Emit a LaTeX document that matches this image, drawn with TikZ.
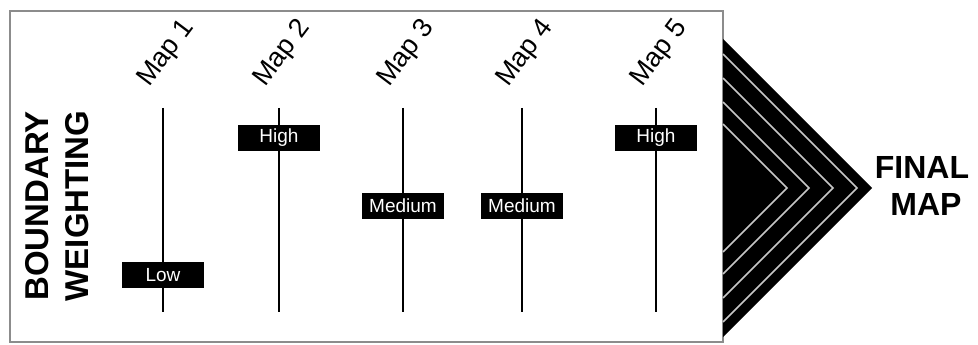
\documentclass[tikz,border=0pt]{standalone}
\usepackage{fontspec}
\setmainfont{Liberation Sans}
\begin{document}
\begin{tikzpicture}[x=1pt,y=-1pt,
  level/.style={fill=black, text=white, minimum width=82pt, minimum height=26pt,
    inner sep=0pt, font=\fontsize{19}{22}\selectfont},
  maplabel/.style={rotate=53, anchor=base west, font=\fontsize{27}{30}\selectfont},
  track/.style={line width=2.5pt},
  bigtext/.style={font=\bfseries\fontsize{33}{37}\selectfont},
  frame/.style={draw=black!45, line width=1.3pt},
  layer/.style={draw=black!22, line width=1.5pt, line join=miter}
]
\useasboundingbox (0,0) rectangle (978,345);

% panel holding the five maps
\draw[frame] (10,11) rectangle (723,342);

% vertical tracks, map labels and weighting markers
\foreach \i/\x/\y/\t in {1/163/275/Low, 2/279/138/High, 3/403/206/Medium,
                         4/522/206/Medium, 5/656/138/High}{
  \coordinate (t\i) at (\x,108);
  \coordinate (b\i) at (\x,312);
  \draw[track] (t\i) -- (b\i);
  \node[maplabel] (m\i) at (\x-16,90) {Map~\i};
  \node[level] (w\i) at (\x,\y) {\t};
}

% side title
\node[bigtext, rotate=90, anchor=base] (bnd) at (48,206) {BOUNDARY};
\node[bigtext, rotate=90, anchor=base] (wgt) at (88,206) {WEIGHTING};

% stacked chevrons merging the maps
\fill[black] (723,39) -- (872,188) -- (723,337) -- cycle;
\foreach \a in {857,833,809,787}{
  \draw[layer] (723,{188-(\a-723)}) -- (\a,188) -- (723,{188+(\a-723)});
}

% result
\node[font=\bfseries\fontsize{32}{37}\selectfont, anchor=base] (fin) at (922,178) {FINAL};
\node[font=\bfseries\fontsize{32}{37}\selectfont, anchor=base] (map) at (926,215) {MAP};
\end{tikzpicture}
\end{document}
